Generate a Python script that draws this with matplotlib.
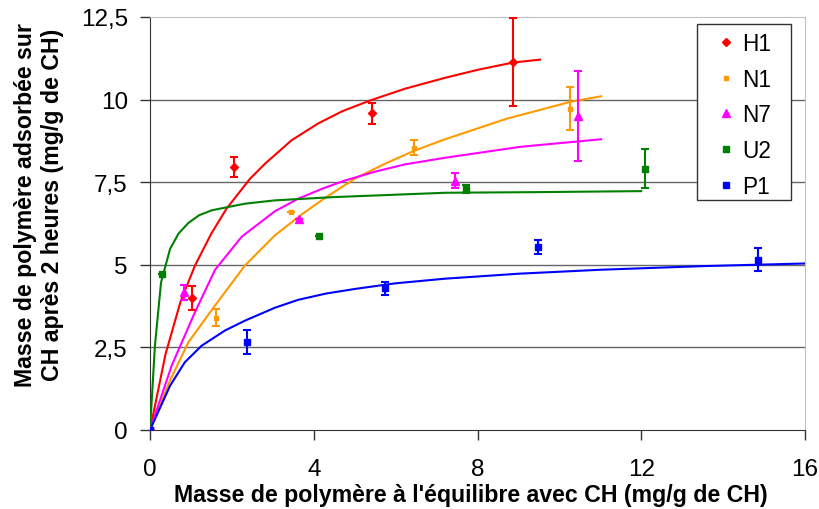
import matplotlib
matplotlib.use("Agg")
import matplotlib.pyplot as plt
from matplotlib.patches import Rectangle

plt.rcParams['font.family'] = ['Liberation Sans', 'DejaVu Sans']

# measured points (x, y, error)
h1_x = [0, 1.02, 2.06, 5.42, 8.86]
h1_y = [0, 4.0, 7.96, 9.58, 11.14]
h1_e = [0, 0.36, 0.30, 0.33, 1.33]

n1_x = [0, 1.62, 3.44, 6.45, 10.27]
n1_y = [0, 3.40, 6.60, 8.55, 9.73]
n1_e = [0, 0.25, 0, 0.22, 0.64]

n7_x = [0, 0.84, 3.63, 7.44, 10.46]
n7_y = [0, 4.17, 6.39, 7.55, 9.50]
n7_e = [0, 0.23, 0, 0.22, 1.36]

u2_x = [0, 0.29, 4.13, 7.71, 12.1]
u2_y = [0, 4.73, 5.88, 7.30, 7.91]
u2_e = [0, 0, 0, 0.12, 0.58]

p1_x = [0, 2.37, 5.74, 9.49, 14.84]
p1_y = [0, 2.66, 4.29, 5.54, 5.16]
p1_e = [0, 0.36, 0.19, 0.22, 0.36]

# fitted curves
h1_cx = [0, 0.38, 0.75, 1.10, 1.5, 1.87, 2.44, 2.81, 3.46, 4.11, 4.7, 5.37, 6.23, 7.21, 8.0, 8.86, 9.53]
h1_cy = [0, 2.3, 3.9, 4.98, 5.95, 6.70, 7.6, 8.06, 8.77, 9.28, 9.65, 9.97, 10.33, 10.66, 10.9, 11.12, 11.21]

n1_cx = [0, 0.49, 0.94, 1.59, 2.32, 3.05, 3.7, 4.27, 5.01, 5.74, 6.47, 7.21, 8.71, 10.26, 11.02]
n1_cy = [0, 1.50, 2.66, 3.77, 4.98, 5.89, 6.52, 7.02, 7.61, 8.06, 8.46, 8.80, 9.42, 9.93, 10.10]

n7_cx = [0, 0.53, 1.10, 1.59, 2.24, 3.05, 3.62, 4.2, 4.76, 5.5, 6.23, 7.21, 9.04, 11.02]
n7_cy = [0, 1.95, 3.57, 4.85, 5.85, 6.62, 7.0, 7.3, 7.55, 7.82, 8.04, 8.24, 8.57, 8.80]

u2_cx = [0, 0.12, 0.27, 0.49, 0.7, 0.94, 1.2, 1.51, 2.32, 3.05, 4.5, 7.21, 9.5, 12.0]
u2_cy = [0, 2.55, 4.47, 5.48, 5.95, 6.27, 6.5, 6.65, 6.85, 6.95, 7.05, 7.18, 7.20, 7.23]

p1_cx = [0, 0.49, 0.85, 1.26, 1.83, 2.32, 3.05, 3.62, 4.3, 5.01, 6.0, 7.21, 9.0, 11.0, 13.5, 16.0]
p1_cy = [0, 1.34, 2.05, 2.55, 3.01, 3.31, 3.70, 3.94, 4.13, 4.27, 4.44, 4.58, 4.73, 4.85, 4.96, 5.04]

series = [
    ("H1", h1_x, h1_y, h1_e, h1_cx, h1_cy, "#FF0000", "D", 4.5),
    ("N1", n1_x, n1_y, n1_e, n1_cx, n1_cy, "#FF9900", "s", 3),
    ("N7", n7_x, n7_y, n7_e, n7_cx, n7_cy, "#FF00FF", "^", 6),
    ("U2", u2_x, u2_y, u2_e, u2_cx, u2_cy, "#008000", "s", 4.5),
    ("P1", p1_x, p1_y, p1_e, p1_cx, p1_cy, "#0000FF", "s", 4.5),
]

W, H = 819, 510
fig = plt.figure(figsize=(W / 100, H / 100), dpi=100)
ax = fig.add_axes([150 / W, 1 - 431 / H, 655 / W, 413 / H])

handles = []
for name, x, y, e, cx, cy, col, mk, ms in series:
    ax.plot(cx, cy, color=col, lw=1.5, zorder=3)
    ax.errorbar(x, y, yerr=e, fmt="none", ecolor=col, elinewidth=1.5,
                capsize=3, capthick=1.5, zorder=4)
    h, = ax.plot(x, y, ls="none", marker=mk, ms=ms, color=col, label=name, zorder=5)
    handles.append(h)

ax.set_xlim(0, 16)
ax.set_ylim(0, 12.5)
ax.set_xticks([0, 4, 8, 12, 16])
ax.set_yticks([0, 2.5, 5, 7.5, 10, 12.5])
ax.set_yticklabels(["0", "2,5", "5", "7,5", "10", "12,5"])
for v in [2.5, 5, 7.5, 10]:
    ax.axhline(v, color="#666666", lw=1, zorder=1)

for s in ["top", "right"]:
    ax.spines[s].set_color("#c0c0c0")
for s in ["left", "bottom"]:
    ax.spines[s].set_color("#333333")

ax.tick_params(axis="both", labelsize=17.5, length=7, width=1, color="#333333")
ax.tick_params(axis="x", pad=13)
ax.tick_params(axis="y", pad=9)

fig.text(471 / W, 1 - 496 / H, "Masse de polymère à l'équilibre avec CH (mg/g de CH)",
         fontsize=16.7, fontweight="bold", ha="center", va="center")
fig.text(39 / W, 1 - 205 / H, "Masse de polymère adsorbée sur\nCH après 2 heures (mg/g de CH)",
         fontsize=16.7, fontweight="bold", ha="center", va="center", rotation=90,
         multialignment="center", linespacing=1.25)

# legend box
box = Rectangle((697 / W, 1 - 201 / H), 94 / W, 176 / H, transform=fig.transFigure,
                facecolor="white", edgecolor="#333333", lw=1, zorder=9)
fig.patches.append(box)
leg = fig.legend(handles=handles, loc="upper left",
                 bbox_to_anchor=(715 / W, 1 - 33 / H), bbox_transform=fig.transFigure,
                 borderaxespad=0, borderpad=0, fontsize=16.3, frameon=False,
                 handlelength=1.0, handletextpad=0.2, labelspacing=0.56,
                 markerscale=1.0)
leg.set_zorder(10)

fig.savefig("out.png", dpi=100)
